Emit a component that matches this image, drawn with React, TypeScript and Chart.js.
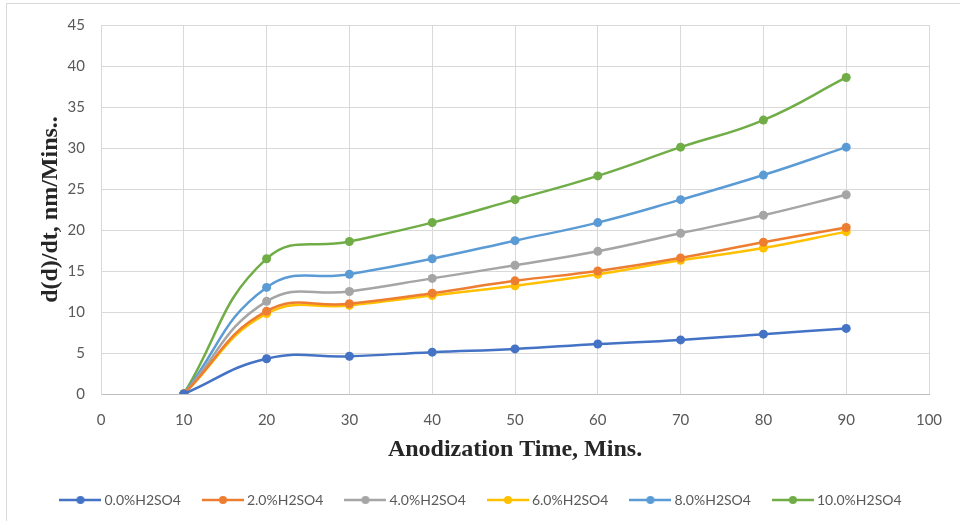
import React, { useEffect, useRef } from 'react';
import { Chart, registerables } from 'chart.js';

Chart.register(...registerables);

// anodization time (mins)
const times = [10, 20, 30, 40, 50, 60, 70, 80, 90];

const seriesNames = ['0.0%H2SO4', '2.0%H2SO4', '4.0%H2SO4', '6.0%H2SO4', '8.0%H2SO4', '10.0%H2SO4'];
const seriesColors = ['#4472C4', '#ED7D31', '#A5A5A5', '#FFC000', '#5B9BD5', '#70AD47'];

const acid0 = [0, 4.3, 4.6, 5.1, 5.5, 6.1, 6.6, 7.3, 8.0];
const acid2 = [0, 10.1, 11.0, 12.3, 13.8, 15.0, 16.6, 18.5, 20.3];
const acid4 = [0, 11.3, 12.5, 14.1, 15.7, 17.4, 19.6, 21.8, 24.3];
const acid6 = [0, 9.8, 10.8, 12.0, 13.2, 14.6, 16.3, 17.8, 19.8];
const acid8 = [0, 13.0, 14.6, 16.5, 18.7, 20.9, 23.7, 26.7, 30.1];
const acid10 = [0, 16.5, 18.6, 20.9, 23.7, 26.6, 30.1, 33.4, 38.6];

const seriesValues = [acid0, acid2, acid4, acid6, acid8, acid10];

const tickFont = { family: 'Lato, "Open Sans", sans-serif', size: 15 };
const titleFont = { family: '"Liberation Serif", "Times New Roman", serif', size: 24, weight: 'bold' as const };

// little "line with a dot" swatch, like the Excel legend
// drawn a bit wider than the legend box so the text sits close to the line
function legendSwatch(color: string): HTMLCanvasElement {
    const c = document.createElement('canvas');
    c.width = 42;
    c.height = 10;
    const ctx = c.getContext('2d');
    if (ctx) {
        ctx.strokeStyle = color;
        ctx.lineWidth = 2.5;
        ctx.beginPath();
        ctx.moveTo(0, 5);
        ctx.lineTo(42, 5);
        ctx.stroke();
        ctx.fillStyle = color;
        ctx.beginPath();
        ctx.arc(21, 5, 4, 0, Math.PI * 2);
        ctx.fill();
    }
    return c;
}

const App: React.FC = () => {
    const canvasRef = useRef<HTMLCanvasElement>(null);

    useEffect(() => {
        document.body.style.margin = '0';
        if (!canvasRef.current) return;

        const swatches = seriesColors.map(legendSwatch);

        const chart = new Chart(canvasRef.current, {
            type: 'line',
            data: {
                datasets: seriesNames.map((name, i) => ({
                    label: name,
                    data: times.map((t, j) => ({ x: t, y: seriesValues[i][j] })),
                    borderColor: seriesColors[i],
                    backgroundColor: seriesColors[i],
                    borderWidth: 2.5,
                    pointRadius: 4.5,
                    pointBorderWidth: 0,
                    tension: 0.45,
                    fill: false,
                })),
            },
            options: {
                animation: false,
                responsive: true,
                maintainAspectRatio: false,
                layout: { padding: { top: 25, right: 31, bottom: 4, left: 36 } },
                plugins: {
                    tooltip: { enabled: false },
                    legend: {
                        position: 'bottom',
                        labels: {
                            usePointStyle: true,
                            pointStyleWidth: 34,
                            padding: 25,
                            color: '#595959',
                            font: { family: 'Lato, "Open Sans", sans-serif', size: 14 },
                            generateLabels: (c) =>
                                Chart.defaults.plugins.legend.labels.generateLabels(c).map((item, i) => ({
                                    ...item,
                                    pointStyle: swatches[i],
                                })),
                        },
                    },
                },
                scales: {
                    x: {
                        type: 'linear',
                        min: 0,
                        max: 100,
                        ticks: { stepSize: 10, color: '#595959', font: tickFont, padding: 17 },
                        grid: { color: '#d9d9d9', drawTicks: false },
                        border: { color: '#bfbfbf' },
                        title: {
                            display: true,
                            text: 'Anodization Time, Mins.',
                            color: '#262626',
                            font: titleFont,
                            padding: { top: 0, bottom: 4 },
                        },
                        afterFit: (scale) => {
                            scale.height = 74;
                        },
                    },
                    y: {
                        min: 0,
                        max: 45,
                        ticks: { stepSize: 5, color: '#595959', font: tickFont, padding: 16 },
                        grid: { color: '#d9d9d9', drawTicks: false },
                        border: { color: '#d9d9d9' },
                        title: {
                            display: true,
                            text: 'd(d)/dt, nm/Mins..',
                            color: '#262626',
                            font: titleFont,
                            padding: { top: 0, bottom: 0 },
                        },
                        afterFit: (scale) => {
                            scale.width = 65;
                        },
                    },
                },
            },
        });

        return () => {
            chart.destroy();
        };
    }, []);

    return (
        <div style={{ position: 'relative', width: 960, height: 521, overflow: 'hidden', background: '#fff' }}>
            <div
                style={{
                    position: 'absolute',
                    left: 6,
                    top: 3,
                    width: 960,
                    height: 521,
                    border: '1px solid #d9d9d9',
                    boxSizing: 'border-box',
                }}
            />
            <div style={{ position: 'absolute', left: 0, top: 0, width: 960, height: 521 }}>
                <canvas ref={canvasRef} />
            </div>
        </div>
    );
};

export default App;
